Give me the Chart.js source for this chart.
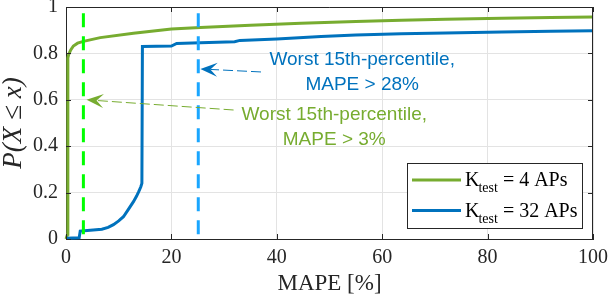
<!DOCTYPE html>
<html>
<head>
<meta charset="utf-8">
<script src="https://cdn.jsdelivr.net/npm/chart.js@4/dist/chart.umd.min.js"></script>
<style>
  html, body { margin: 0; padding: 0; background: #fff; }
  #wrap { position: relative; width: 608px; height: 298px; }
</style>
</head>
<body>
<div id="wrap"><canvas id="cdf"></canvas></div>
<script>
// ---- data ----
var xTicks = [0, 20, 40, 60, 80, 100];
var yTicks = [0, 0.2, 0.4, 0.6, 0.8, 1];
var yTickLabels = ['0', '0.2', '0.4', '0.6', '0.8', '1'];

// K_test = 4 APs
var greenX = [0, 0.3, 0.35, 0.5, 0.9, 1.4, 2.2, 3.3, 6.5, 12.8, 20, 25.5, 35, 44.6, 55, 63.6, 72, 82.7, 92, 100];
var greenY = [0, 0.02, 0.78, 0.795, 0.815, 0.832, 0.844, 0.852, 0.868, 0.887, 0.905, 0.912, 0.921, 0.930, 0.937, 0.943, 0.947, 0.951, 0.955, 0.957];

// K_test = 32 APs
var blueX = [0, 2.5, 2.7, 3.5, 6.8, 8, 9, 10, 10.9, 11.9, 12.8, 13.4, 13.8, 14.2, 14.4, 14.5, 20, 21, 25.5, 32, 33, 40, 48.4, 55, 63.6, 72, 82.7, 92, 100];
var blueY = [0.003, 0.005, 0.034, 0.036, 0.042, 0.05, 0.062, 0.078, 0.096, 0.13, 0.161, 0.185, 0.204, 0.225, 0.24, 0.83, 0.832, 0.843, 0.846, 0.85, 0.856, 0.862, 0.873, 0.879, 0.885, 0.888, 0.892, 0.895, 0.898];

// vertical markers (15th-percentile thresholds)
var markerX = [3.3, 25.1];
var markerY = [0.02, 0.975];

var legendMain = ['K', 'K'];
var legendSub = ['test', 'test'];
var legendRest = [' = 4 APs', ' = 32 APs'];

var noteLines = [['Worst 15th-percentile,', 'MAPE > 28%'], ['Worst 15th-percentile,', 'MAPE > 3%']];
var noteAnchorX = [56.2, 50.9];
var noteAnchorY = [[0.772, 0.666], [0.534, 0.427]];
var arrowFrom = [[37, 0.72], [31.8, 0.556]];
var arrowTo = [[25.5, 0.733], [3.9, 0.6]];

var GREEN = '#77ac30';
var BLUE = '#0072bd';
var colors = [GREEN, BLUE];
var noteColors = [BLUE, GREEN];

function pts(xs, ys) {
    return xs.map(function (x, i) { return { x: x, y: ys[i] }; });
}

// ------------------------------------------------------------------
// inward ticks + box on top/right
// ------------------------------------------------------------------
var boxTicks = {
    id: 'boxTicks',
    afterDraw: function (chart) {
        var ctx = chart.ctx, a = chart.chartArea;
        var sx = chart.scales.x, sy = chart.scales.y;
        ctx.save();
        ctx.strokeStyle = '#262626';
        ctx.lineWidth = 1;
        ctx.beginPath();
        ctx.moveTo(a.left, a.top + 0.5);
        ctx.lineTo(a.right - 0.5, a.top + 0.5);
        ctx.lineTo(a.right - 0.5, a.bottom);
        xTicks.forEach(function (v) {
            var px = Math.round(sx.getPixelForValue(v)) + 0.5;
            ctx.moveTo(px, a.bottom); ctx.lineTo(px, a.bottom - 5);
            ctx.moveTo(px, a.top); ctx.lineTo(px, a.top + 5);
        });
        yTicks.forEach(function (v) {
            var py = Math.round(sy.getPixelForValue(v)) + 0.5;
            ctx.moveTo(a.left, py); ctx.lineTo(a.left + 5, py);
            ctx.moveTo(a.right, py); ctx.lineTo(a.right - 5, py);
        });
        ctx.stroke();
        ctx.restore();
    }
};

// ------------------------------------------------------------------
// notes with arrows, and the legend box
// ------------------------------------------------------------------
var notes = {
    id: 'notes',
    afterDatasetsDraw: function (chart) {
        var ctx = chart.ctx;
        var sx = chart.scales.x, sy = chart.scales.y;
        ctx.save();
        noteLines.forEach(function (lines, k) {
            var c = noteColors[k];
            ctx.fillStyle = c;
            ctx.font = '19px "Liberation Sans", Arial, sans-serif';
            ctx.textAlign = 'center';
            ctx.textBaseline = 'middle';
            lines.forEach(function (t, j) {
                ctx.fillText(t, sx.getPixelForValue(noteAnchorX[k]), sy.getPixelForValue(noteAnchorY[k][j]));
            });
            var x0 = sx.getPixelForValue(arrowFrom[k][0]), y0 = sy.getPixelForValue(arrowFrom[k][1]);
            var x1 = sx.getPixelForValue(arrowTo[k][0]), y1 = sy.getPixelForValue(arrowTo[k][1]);
            var ang = Math.atan2(y1 - y0, x1 - x0);
            var cs = Math.cos(ang), sn = Math.sin(ang);
            var L = 15, W = 7;
            var bx = x1 - L * cs, by = y1 - L * sn;
            ctx.strokeStyle = c;
            ctx.lineWidth = 1;
            ctx.setLineDash([10, 4]);
            ctx.beginPath();
            ctx.moveTo(x0, y0);
            ctx.lineTo(bx + 5 * cs, by + 5 * sn);
            ctx.stroke();
            ctx.setLineDash([]);
            var nx = -sn, ny = cs;
            ctx.beginPath();
            ctx.moveTo(x1, y1);
            ctx.lineTo(bx + nx * W - 2 * cs, by + ny * W - 2 * sn);
            ctx.lineTo(bx + 5 * cs, by + 5 * sn);
            ctx.lineTo(bx - nx * W - 2 * cs, by - ny * W - 2 * sn);
            ctx.closePath();
            ctx.fill();
        });

        // legend
        var lx = 407.5, ly = 163.5, lw = 175, lh = 65;
        ctx.fillStyle = '#fff';
        ctx.fillRect(lx, ly, lw, lh);
        ctx.strokeStyle = '#262626';
        ctx.lineWidth = 1;
        ctx.strokeRect(lx, ly, lw, lh);
        var rows = [180, 210.5];
        rows.forEach(function (ry, i) {
            ctx.strokeStyle = colors[i];
            ctx.lineWidth = 3;
            ctx.beginPath();
            ctx.moveTo(412, ry); ctx.lineTo(461, ry);
            ctx.stroke();
            ctx.fillStyle = '#000';
            ctx.textAlign = 'left';
            ctx.textBaseline = 'alphabetic';
            ctx.font = '20px "Liberation Serif", "Times New Roman", serif';
            var tx = 465;
            ctx.fillText(legendMain[i], tx, ry + 6);
            var kw = ctx.measureText(legendMain[i]).width;
            ctx.font = '14px "Liberation Serif", "Times New Roman", serif';
            ctx.fillText(legendSub[i], tx + kw - 1, ry + 12);
            var sw = ctx.measureText(legendSub[i]).width;
            ctx.font = '20px "Liberation Serif", "Times New Roman", serif';
            ctx.fillText(legendRest[i], tx + kw + sw - 1, ry + 6);
        });
        ctx.restore();
    }
};

var serif = '"Liberation Serif", "Times New Roman", serif';

new Chart(document.getElementById('cdf'), {
    type: 'line',
    data: {
        datasets: [
            { data: pts([markerX[0], markerX[0]], markerY), borderColor: '#00ff00', borderWidth: 3, borderDash: [14, 9], pointRadius: 0, order: 0 },
            { data: pts([markerX[1], markerX[1]], markerY), borderColor: '#1aa6ff', borderWidth: 3, borderDash: [14, 9], pointRadius: 0, order: 0 },
            { data: pts(blueX, blueY), borderColor: BLUE, borderWidth: 3, pointRadius: 0, tension: 0, clip: false, order: 1 },
            { data: pts(greenX, greenY), borderColor: GREEN, borderWidth: 3, pointRadius: 0, tension: 0, clip: false, order: 2 }
        ]
    },
    options: {
        responsive: true,
        maintainAspectRatio: false,
        animation: false,
        layout: { padding: { top: 7, right: 15, left: 0, bottom: 0 } },
        plugins: { legend: { display: false }, tooltip: { enabled: false } },
        scales: {
            x: {
                type: 'linear', min: 0, max: 100,
                afterBuildTicks: function (s) { s.ticks = xTicks.map(function (v) { return { value: v }; }); },
                afterFit: function (s) { s.height = 59; s.paddingLeft = 0; s.paddingRight = 0; },
                grid: { color: '#e3e3e3', drawTicks: false },
                border: { color: '#262626', width: 1 },
                ticks: { padding: 7, color: '#262626', font: { family: serif, size: 20 }, maxRotation: 0 },
                title: { display: true, text: 'MAPE [%]', color: '#262626', padding: 0, font: { family: serif, size: 23 } }
            },
            y: {
                type: 'linear', min: 0, max: 1,
                afterBuildTicks: function (s) { s.ticks = yTicks.map(function (v) { return { value: v }; }); },
                afterFit: function (s) { s.width = 66; s.paddingTop = 0; s.paddingBottom = 0; },
                grid: { color: '#e3e3e3', drawTicks: false },
                border: { color: '#262626', width: 1 },
                ticks: {
                    padding: 8, color: '#262626', font: { family: serif, size: 20 },
                    callback: function (v, i) { return yTickLabels[i]; }
                },
                title: { display: true, text: 'P(X \u2264 x)', color: '#262626', padding: { top: -2, bottom: 0 }, font: { family: serif, size: 27, style: 'italic' } }
            }
        }
    },
    plugins: [boxTicks, notes]
});
</script>
</body>
</html>
